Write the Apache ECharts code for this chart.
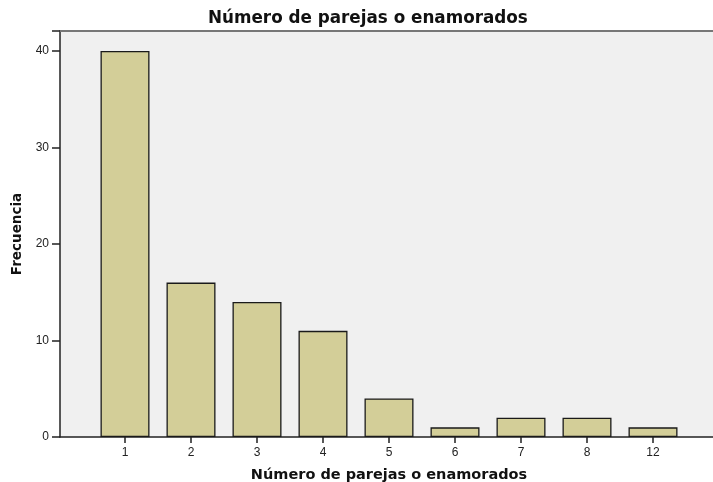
<!DOCTYPE html>
<html>
<head>
<meta charset="utf-8">
<script src="https://cdn.jsdelivr.net/npm/echarts@6/dist/echarts.min.js"></script>
<style>
  html, body { margin: 0; padding: 0; background: #fff; }
  #main { width: 713px; height: 482px; }
</style>
</head>
<body>
<div id="main"></div>
<script>
// valores
var categorias = ['1', '2', '3', '4', '5', '6', '7', '8', '12'];
var frecuencias = [40, 16, 14, 11, 4, 1, 2, 2, 1];
var yMax = 42.07;

var chart = echarts.init(document.getElementById('main'));

var option = {
    backgroundColor: '#ffffff',
    animation: false,
    title: {
        text: 'Número de parejas o enamorados',
        left: 203,
        top: 5,
        textStyle: { fontFamily: 'DejaVu Sans', fontWeight: 'bold', fontSize: 16.8, color: '#111' }
    },
    grid: [
        { left: 60, top: 31, right: 0, bottom: 45, show: true, backgroundColor: '#f0f0f0', borderWidth: 0,
          containLabel: false, outerBoundsMode: 'none' },
        { left: 92, top: 31, width: 594, bottom: 45, containLabel: false, outerBoundsMode: 'none' }
    ],
    xAxis: [
        {   // línea base del área
            gridIndex: 0, type: 'value', min: 0, max: 1, position: 'bottom',
            axisLine: { show: true, lineStyle: { color: '#222', width: 1.5 } },
            axisTick: { show: false }, axisLabel: { show: false }, splitLine: { show: false }
        },
        {   // borde superior
            gridIndex: 0, type: 'value', min: 0, max: 1, position: 'top',
            axisLine: { show: true, lineStyle: { color: '#777', width: 2 } },
            axisTick: { show: false }, axisLabel: { show: false }, splitLine: { show: false }
        },
        {
            gridIndex: 1, type: 'category', data: categorias,
            axisLine: { show: false },
            axisTick: { show: true, alignWithLabel: true, length: 6, inside: false, lineStyle: { color: '#222', width: 1.5 } },
            axisLabel: { fontFamily: 'Liberation Sans', fontSize: 12, color: '#222', margin: 10 },
            name: 'Número de parejas o enamorados',
            nameLocation: 'middle',
            nameGap: 31,
            nameTextStyle: { fontFamily: 'DejaVu Sans', fontWeight: 'bold', fontSize: 14.5, color: '#111' }
        }
    ],
    yAxis: [
        {
            gridIndex: 0, type: 'value', min: 0, max: yMax, interval: 10,
            axisLine: { show: true, lineStyle: { color: '#222', width: 1.5 } },
            axisTick: { show: true, length: 8, lineStyle: { color: '#222', width: 1.5 } },
            axisLabel: { fontFamily: 'Liberation Sans', fontSize: 12, color: '#222', margin: 11,
                formatter: function (v) { return v % 10 === 0 ? v : ''; } },
            splitLine: { show: false },
            name: 'Frecuencia',
            nameLocation: 'middle',
            nameRotate: 90,
            nameGap: 36,
            nameTextStyle: { fontFamily: 'DejaVu Sans', fontWeight: 'bold', fontSize: 13.5, color: '#111' }
        },
        {
            gridIndex: 1, type: 'value', min: 0, max: yMax,
            show: false
        }
    ],
    series: [
        {
            name: 'Frecuencia',
            type: 'bar',
            xAxisIndex: 2,
            yAxisIndex: 1,
            barWidth: 49,
            data: frecuencias,
            itemStyle: { color: '#d3ce98', borderColor: '#1a1a1a', borderWidth: 1.3 }
        }
    ]
};

chart.setOption(option);
</script>
</body>
</html>
